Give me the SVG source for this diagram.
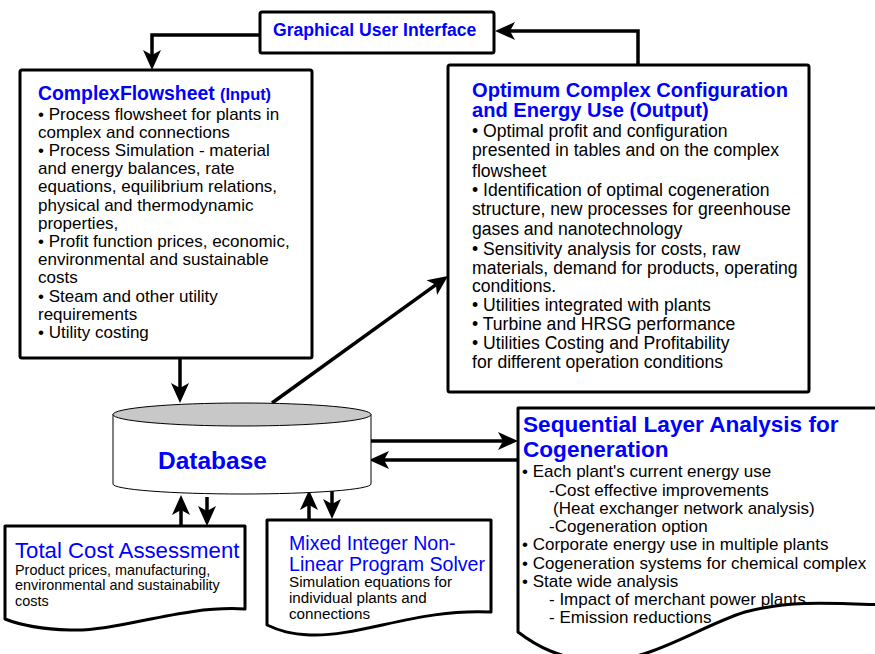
<svg xmlns="http://www.w3.org/2000/svg" width="875" height="654" viewBox="0 0 875 654">
<defs>
<style>
text{font-family:"Liberation Sans",Arial,sans-serif;fill:#000}
.box{fill:#fff;stroke:#000;stroke-width:3;stroke-linejoin:round}
.doc{fill:#fff;stroke:#000;stroke-width:3;stroke-linejoin:round}
.ttl{fill:#0000ff;font-weight:bold}
.blue{fill:#0000ff}
.conn{fill:none;stroke:#000;stroke-width:3.5;marker-end:url(#ah)}
.b17{font-size:17px}
.b175{font-size:17.6px}
</style>
<marker id="ah" viewBox="0 0 20 20" refX="10" refY="10" markerWidth="20" markerHeight="20" markerUnits="userSpaceOnUse" orient="auto">
<path d="M0,1 L20,10 L0,19 L5,10 Z" fill="#000"/>
</marker>
</defs>

<g id="connectors">
<path class="conn" d="M260,35 H152 V60"/>
<path class="conn" d="M638,65 V31 H505"/>
<path class="conn" d="M180,358 V393"/>
<path class="conn" d="M272,403 L439.9,281.8"/>
<path class="conn" d="M371,441 H508"/>
<path class="conn" d="M518,460 H379"/>
<path class="conn" d="M181,526 V505"/>
<path class="conn" d="M207,497 V516"/>
<path class="conn" d="M309,520 V500"/>
<path class="conn" d="M332,490 V509"/>
</g>

<g id="gui">
<rect class="box" x="260" y="12" width="234" height="41" rx="2"/>
<text class="ttl" x="273" y="36" font-size="17.6">Graphical User Interface</text>
</g>

<g id="complex-flowsheet">
<rect class="box" x="20" y="70" width="292" height="288" rx="2"/>
<text class="ttl" x="38" y="100" font-size="19.4">ComplexFlowsheet <tspan font-size="16.4">(Input)</tspan></text>
<text class="b17" x="38" y="119.5">• Process flowsheet for plants in</text>
<text class="b17" x="38" y="137.7">complex and connections</text>
<text class="b17" x="38" y="155.9">• Process Simulation - material</text>
<text class="b17" x="38" y="174.1">and energy balances, rate</text>
<text class="b17" x="38" y="192.3">equations, equilibrium relations,</text>
<text class="b17" x="38" y="210.5">physical and thermodynamic</text>
<text class="b17" x="38" y="228.7">properties,</text>
<text class="b17" x="38" y="246.9">• Profit function prices, economic,</text>
<text class="b17" x="38" y="265.1">environmental and sustainable</text>
<text class="b17" x="38" y="283.3">costs</text>
<text class="b17" x="38" y="301.5">• Steam and other utility</text>
<text class="b17" x="38" y="319.7">requirements</text>
<text class="b17" x="38" y="337.9">• Utility costing</text>
</g>

<g id="output">
<rect class="box" x="448" y="65" width="361" height="327" rx="2"/>
<text class="ttl" x="472" y="96.7" font-size="20.1">Optimum Complex Configuration</text>
<text class="ttl" x="472" y="117.3" font-size="20.1">and Energy Use (Output)</text>
<text class="b175" x="472" y="136.7">• Optimal profit and configuration</text>
<text class="b175" x="472" y="155.7">presented in tables and on the complex</text>
<text class="b175" x="472" y="176.7">flowsheet</text>
<text class="b175" x="472" y="196">• Identification of optimal cogeneration</text>
<text class="b175" x="472" y="215">structure, new processes for greenhouse</text>
<text class="b175" x="472" y="235">gases and nanotechnology</text>
<text class="b175" x="472" y="255">• Sensitivity analysis for costs, raw</text>
<text class="b175" x="472" y="274">materials, demand for products, operating</text>
<text class="b175" x="472" y="292.3">conditions.</text>
<text class="b175" x="472" y="311">• Utilities integrated with plants</text>
<text class="b175" x="472" y="330">• Turbine and HRSG performance</text>
<text class="b175" x="472" y="349">• Utilities Costing and Profitability</text>
<text class="b175" x="472" y="367.7">for different operation conditions</text>
</g>

<g id="database">
<path d="M113,414 V484 A129,10 0 0 0 371,484 V414" fill="#fff" stroke="#000" stroke-width="1"/>
<ellipse cx="242" cy="414.5" rx="129" ry="11.5" fill="#c8c8c8" stroke="#000" stroke-width="1"/>
<text class="ttl" x="158" y="469" font-size="24.5">Database</text>
</g>

<g id="sequential-layer-analysis">
<path class="doc" d="M885,605 C830,603 790,600 745,612 C700,626 650,662 600,661 C560,660 535,645 518,632 V408 H885 Z"/>
<text class="ttl" x="523" y="431.5" font-size="22.6">Sequential Layer Analysis for</text>
<text class="ttl" x="523" y="457" font-size="22.6">Cogeneration</text>
<text class="b17" x="522" y="477.3">• Each plant's current energy use</text>
<text class="b17" x="549" y="495.5">-Cost effective improvements</text>
<text class="b17" x="553" y="513.8">(Heat exchanger network analysis)</text>
<text class="b17" x="549" y="532">-Cogeneration option</text>
<text class="b17" x="522" y="550.3">• Corporate energy use in multiple plants</text>
<text class="b17" x="522" y="568.5">• Cogeneration systems for chemical complex</text>
<text class="b17" x="522" y="586.8">• State wide analysis</text>
<text class="b17" x="549" y="605">- Impact of merchant power plants</text>
<text class="b17" x="549" y="623.3">- Emission reductions</text>
</g>

<g id="total-cost-assessment">
<path class="doc" d="M245,609 C180,605 120,632 70,630 C40,629 20,625 5,619 V526 H245 Z"/>
<text class="blue" x="15" y="557.7" font-size="22.2">Total Cost Assessment</text>
<text x="15" y="574.5" font-size="14.4">Product prices, manufacturing,</text>
<text x="15" y="590.2" font-size="14.4">environmental and sustainability</text>
<text x="15" y="605.8" font-size="14.4">costs</text>
</g>

<g id="minlp-solver">
<path class="doc" d="M491,612 C420,608 360,637 310,635 C290,634 280,631 267,625 V520 H491 Z"/>
<text class="blue" x="289" y="550" font-size="19.6">Mixed Integer Non-</text>
<text class="blue" x="289" y="570.7" font-size="19.6">Linear Program Solver</text>
<text x="289" y="587.3" font-size="15.2">Simulation equations for</text>
<text x="289" y="603.3" font-size="15.2">individual plants and</text>
<text x="289" y="619.3" font-size="15.2">connections</text>
</g>
</svg>
